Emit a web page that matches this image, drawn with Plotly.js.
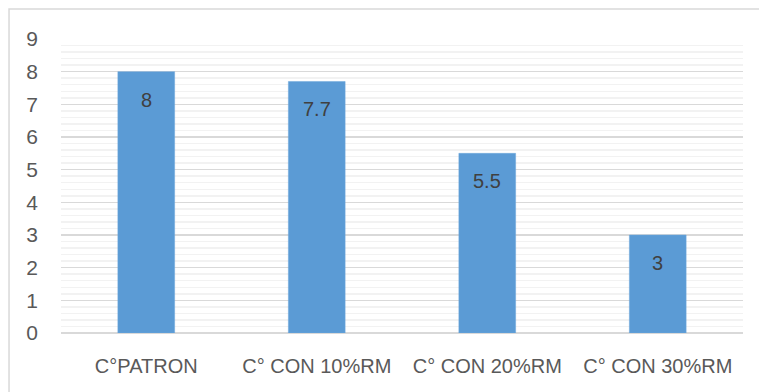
<!DOCTYPE html>
<html>
<head>
<meta charset="utf-8">
<script src="https://cdn.plot.ly/plotly-3.0.1.min.js"></script>
<style>html,body{margin:0;padding:0;background:#fff;}#chart{width:759px;height:392px;}</style>
</head>
<body>
<div id="chart"></div>
<script>
var categories = ["C°PATRON", "C° CON 10%RM", "C° CON 20%RM", "C° CON 30%RM"];
var values = [8, 7.7, 5.5, 3];
var valueLabels = ["8", "7.7", "5.5", "3"];
var yTicks = [0, 1, 2, 3, 4, 5, 6, 7, 8, 9];

var font = "'Liberation Sans', Arial, sans-serif";

var trace = {
  type: 'bar',
  x: categories,
  y: values,
  width: 0.333,
  marker: {color: '#5B9BD5', line: {color: '#6FA8DC', width: 0.5}},
  hoverinfo: 'none'
};

var annotations = categories.map(function(c, i) {
  return {
    x: c, y: values[i], xref: 'x', yref: 'y',
    text: valueLabels[i], showarrow: false,
    yanchor: 'middle', yshift: -28,
    font: {family: font, size: 20, color: '#404040'}
  };
});

var layout = {
  width: 759, height: 392,
  margin: {l: 61, r: 16, t: 39, b: 59},
  paper_bgcolor: '#ffffff',
  plot_bgcolor: '#ffffff',
  showlegend: false,
  bargap: 0.667,
  xaxis: {
    type: 'category',
    showgrid: false,
    zeroline: false,
    showline: false,
    ticks: '',
    ticklabelstandoff: 19,
    tickfont: {family: font, size: 20, color: '#595959'}
  },
  yaxis: {
    range: [0, 9],
    tickvals: yTicks,
    ticktext: yTicks.map(String),
    showgrid: true,
    gridcolor: '#d9d9d9',
    gridwidth: 1.5,
    zeroline: true,
    zerolinecolor: '#d9d9d9',
    zerolinewidth: 1.5,
    showline: false,
    ticks: '',
    ticklabelstandoff: 22,
    tickfont: {family: font, size: 21, color: '#595959'},
    minor: {dtick: 0.2, showgrid: true, gridcolor: '#f2f2f2', gridwidth: 1.5, ticks: ''}
  },
  annotations: annotations,
  shapes: [{
    type: 'rect', xref: 'paper', yref: 'paper',
    x0: -0.0762, x1: 1.2, y0: -0.5, y1: 1.102,
    line: {color: '#d9d9d9', width: 1.5},
    fillcolor: 'rgba(0,0,0,0)',
    layer: 'below'
  }]
};

Plotly.newPlot('chart', [trace], layout, {staticPlot: true, displayModeBar: false});
</script>
</body>
</html>
